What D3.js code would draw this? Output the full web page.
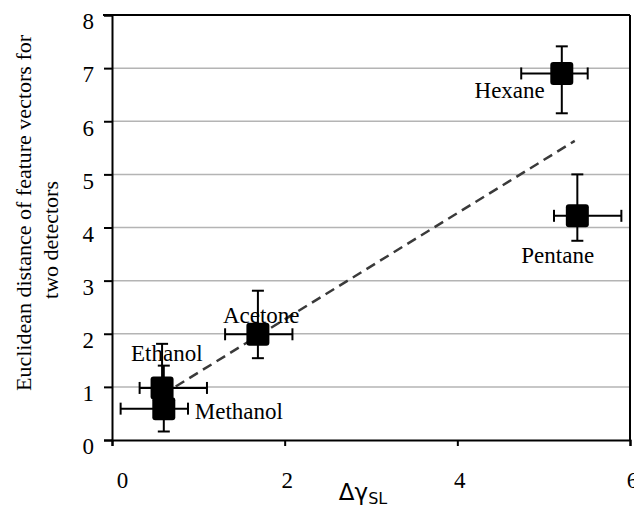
<!DOCTYPE html>
<html>
<head>
<meta charset="utf-8">
<script src="https://cdn.jsdelivr.net/npm/d3@7"></script>
<style>
  html, body { margin: 0; padding: 0; background: #fff; }
  svg { display: block; }
</style>
</head>
<body>
<svg id="chart" width="634" height="510"></svg>
<script>
// ---- data ----
const solvents   = ["Hexane", "Pentane", "Acetone", "Ethanol", "Methanol"];
const deltaGamma = [5.21, 5.39, 1.69, 0.58, 0.60];
const distance   = [6.90, 4.22, 1.99, 0.98, 0.59];
const xErrMinus  = [0.47, 0.27, 0.38, 0.26, 0.50];
const xErrPlus   = [0.30, 0.51, 0.40, 0.52, 0.28];
const yErrPlus   = [0.51, 0.78, 0.82, 0.83, 0.81];
const yErrMinus  = [0.75, 0.47, 0.45, 0.45, 0.43];
const trendX     = [0.58, 5.36];
const trendY     = [0.85, 5.63];
const xTicks     = [0, 2, 4, 6];
const yTicks     = [0, 1, 2, 3, 4, 5, 6, 7, 8];

// ---- layout ----
const L = 112, R = 630, T = 15, B = 440;
const svg = d3.select("#chart");
const x = d3.scaleLinear().domain([0, 6]).range([L, R]);
const y = d3.scaleLinear().domain([0, 8]).range([B, T]);
const serif = "'Liberation Serif', 'Times New Roman', serif";

svg.append("defs").append("clipPath").attr("id", "plotclip")
  .append("rect").attr("x", L).attr("y", T).attr("width", R - L).attr("height", B - T);

// gridlines
svg.append("g").selectAll("line").data(yTicks.filter(v => v > 0 && v < 8)).join("line")
  .attr("x1", L).attr("x2", R).attr("y1", d => y(d)).attr("y2", d => y(d))
  .attr("stroke", "#b4b4b4").attr("stroke-width", 1.5);

// frame (top/right)
svg.append("line").attr("x1", L - 9).attr("x2", R).attr("y1", y(8)).attr("y2", y(8))
  .attr("stroke", "#000").attr("stroke-width", 2);
svg.append("line").attr("x1", R).attr("x2", R).attr("y1", T).attr("y2", B)
  .attr("stroke", "#000").attr("stroke-width", 2);

// y axis
const yAxis = svg.append("g").attr("transform", `translate(${L},0)`)
  .call(d3.axisLeft(y).tickValues(yTicks).tickSize(8).tickFormat(d3.format("d")));
yAxis.select(".domain").attr("stroke", "#000").attr("stroke-width", 2);
yAxis.selectAll(".tick line").attr("stroke", "#000").attr("stroke-width", 2);
yAxis.selectAll(".tick text").attr("font-family", serif).attr("font-size", 23)
  .attr("fill", "#000").attr("x", -18).attr("dy", "0.6em");

// x axis
const xAxis = svg.append("g").attr("transform", `translate(0,${B})`)
  .call(d3.axisBottom(x).tickValues(xTicks).tickSize(6).tickFormat(d3.format("d")));
xAxis.select(".domain").attr("stroke", "#000").attr("stroke-width", 2);
xAxis.selectAll(".tick line").attr("stroke", "#000").attr("stroke-width", 2);
xAxis.selectAll(".tick text").attr("font-family", serif).attr("font-size", 23)
  .attr("fill", "#000").attr("y", 32)
  .attr("dx", d => d === 0 ? 10 : 2);

// trend line
svg.append("line")
  .attr("x1", x(trendX[0])).attr("y1", y(trendY[0]))
  .attr("x2", x(trendX[1])).attr("y2", y(trendY[1]))
  .attr("stroke", "#3a3a3a").attr("stroke-width", 2.5).attr("stroke-dasharray", "10,6");

// error bars
const idx = d3.range(solvents.length);
const eb = svg.append("g").attr("clip-path", "url(#plotclip)")
  .attr("stroke", "#000").attr("stroke-width", 2);
const cap = 6;
idx.forEach(i => {
  const cx = x(deltaGamma[i]), cy = y(distance[i]);
  const x0 = x(deltaGamma[i] - xErrMinus[i]), x1 = x(deltaGamma[i] + xErrPlus[i]);
  const y0 = y(distance[i] - yErrMinus[i]), y1 = y(distance[i] + yErrPlus[i]);
  eb.append("line").attr("x1", x0).attr("x2", x1).attr("y1", cy).attr("y2", cy);
  eb.append("line").attr("x1", x0).attr("x2", x0).attr("y1", cy - cap).attr("y2", cy + cap);
  eb.append("line").attr("x1", x1).attr("x2", x1).attr("y1", cy - cap).attr("y2", cy + cap);
  eb.append("line").attr("x1", cx).attr("x2", cx).attr("y1", y0).attr("y2", y1);
  eb.append("line").attr("x1", cx - cap).attr("x2", cx + cap).attr("y1", y0).attr("y2", y0);
  eb.append("line").attr("x1", cx - cap).attr("x2", cx + cap).attr("y1", y1).attr("y2", y1);
});

// markers
const S = 23;
svg.append("g").selectAll("rect").data(idx).join("rect")
  .attr("x", i => x(deltaGamma[i]) - S / 2).attr("y", i => y(distance[i]) - S / 2)
  .attr("width", S).attr("height", S).attr("rx", 3).attr("fill", "#000");

// point labels
const labelPos = {
  Hexane:   { dx: -17, dy: 17, anchor: "end" },
  Pentane:  { dx: -56, dy: 39, anchor: "start" },
  Acetone:  { dx: -35, dy: -19, anchor: "start" },
  Ethanol:  { dx: -31, dy: -35, anchor: "start" },
  Methanol: { dx: 31, dy: 2, anchor: "start" }
};
svg.append("g").selectAll("text").data(idx).join("text")
  .attr("x", i => x(deltaGamma[i]) + labelPos[solvents[i]].dx)
  .attr("y", i => y(distance[i]) + labelPos[solvents[i]].dy)
  .attr("dy", "0.35em")
  .attr("text-anchor", i => labelPos[solvents[i]].anchor)
  .attr("font-family", serif).attr("font-size", 23).attr("fill", "#000")
  .text(i => solvents[i]);

// y title
const yt = svg.append("g").attr("font-family", serif).attr("font-size", 22).attr("fill", "#000")
  .attr("text-anchor", "middle");
yt.append("text").attr("transform", "translate(31,213) rotate(-90)")
  .text("Euclidean distance of feature vectors for");
yt.append("text").attr("transform", "translate(58,240) rotate(-90)")
  .text("two detectors");

// x title
const xt = svg.append("text").attr("x", 363).attr("y", 500).attr("text-anchor", "middle")
  .attr("font-family", "'DejaVu Sans', 'Noto Sans', sans-serif").attr("font-size", 23).attr("fill", "#000");
xt.append("tspan").text("Δγ");
xt.append("tspan").attr("font-size", 16).attr("dy", 4).text("SL");
</script>
</body>
</html>
